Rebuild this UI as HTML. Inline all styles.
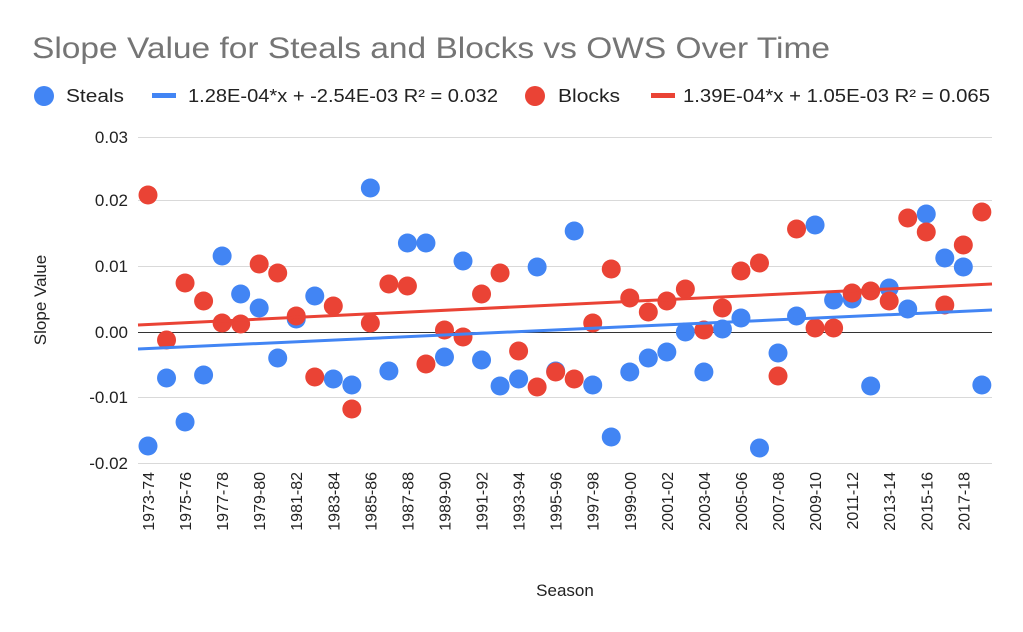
<!DOCTYPE html>
<html><head><meta charset="utf-8"><style>body{margin:0;background:#fff}svg{display:block;font-family:"Liberation Sans",Arial,sans-serif}</style></head>
<body>
<svg width="1023" height="632" viewBox="0 0 1023 632" xmlns="http://www.w3.org/2000/svg">
<rect width="1023" height="632" fill="#fff"/>
<text x="32" y="58" font-size="30" fill="#757575" textLength="798" lengthAdjust="spacingAndGlyphs">Slope Value for Steals and Blocks vs OWS Over Time</text>
<g font-size="18" fill="#222">
<circle cx="44" cy="96" r="10" fill="#4285f4"/><text x="66" y="102" textLength="58" lengthAdjust="spacingAndGlyphs">Steals</text>
<rect x="152" y="93" width="24" height="5" fill="#4285f4"/><text x="188" y="102" textLength="310" lengthAdjust="spacingAndGlyphs">1.28E-04*x + -2.54E-03 R² = 0.032</text>
<circle cx="535" cy="96" r="10" fill="#ea4335"/><text x="558" y="102" textLength="62" lengthAdjust="spacingAndGlyphs">Blocks</text>
<rect x="651" y="93" width="24" height="5" fill="#ea4335"/><text x="683" y="102" textLength="307" lengthAdjust="spacingAndGlyphs">1.39E-04*x + 1.05E-03 R² = 0.065</text>
</g>
<g stroke="#d9d9d9" stroke-width="1">
<line x1="138" y1="137.5" x2="992" y2="137.5"/><line x1="138" y1="200.5" x2="992" y2="200.5"/><line x1="138" y1="266.5" x2="992" y2="266.5"/><line x1="138" y1="397.5" x2="992" y2="397.5"/><line x1="138" y1="463.5" x2="992" y2="463.5"/>
</g>
<line x1="138" y1="332.5" x2="992" y2="332.5" stroke="#333" stroke-width="1"/>
<g font-size="17" fill="#222" text-anchor="end">
<text x="128" y="143">0.03</text><text x="128" y="206">0.02</text><text x="128" y="272">0.01</text><text x="128" y="338">0.00</text><text x="128" y="403">-0.01</text><text x="128" y="469">-0.02</text>
</g>
<text transform="translate(46,300) rotate(-90)" font-size="17" fill="#222" text-anchor="middle">Slope Value</text>
<text x="565" y="596" font-size="17" fill="#222" text-anchor="middle">Season</text>
<g id="xl" font-size="16" fill="#222" text-anchor="end"></g>
<g id="pts"></g>
<line x1="138" y1="349" x2="992" y2="310" stroke="#4285f4" stroke-width="3"/>
<line x1="138" y1="325" x2="992" y2="284" stroke="#ea4335" stroke-width="3"/>
</svg>
<script>
var blue=[446,378,422,375,256,294,308,358,319,296,379,385,188,371,243,243,357,261,360,386,379,267,371,231,385,437,372,358,352,332,372,329,318,448,353,316,225,300,299,386,288,309,214,258,267,385];
var red=[195,340,283,301,323,324,264,273,316,377,306,409,323,284,286,364,330,337,294,273,351,387,372,379,323,269,298,312,301,289,330,308,271,263,376,229,328,328,293,291,301,218,232,305,245,212];
var ns="http://www.w3.org/2000/svg",g=document.getElementById('pts'),xl=document.getElementById('xl');
function c(x,y,f){var e=document.createElementNS(ns,'circle');e.setAttribute('cx',x);e.setAttribute('cy',y);e.setAttribute('r',9.5);e.setAttribute('fill',f);g.appendChild(e);}
for(var i=0;i<46;i++){var x=148+i*18.53;c(x,blue[i],'#4285f4');}
for(var i=0;i<46;i++){var x=148+i*18.53;c(x,red[i],'#ea4335');}
for(var i=0;i<46;i+=2){var x=148+i*18.53;var y=1973+i;var t=document.createElementNS(ns,'text');t.setAttribute('transform','translate('+(x+6)+',472) rotate(-90)');t.textContent=y+'-'+String((y+1)%100).padStart(2,'0');xl.appendChild(t);}
</script>
</body></html>
